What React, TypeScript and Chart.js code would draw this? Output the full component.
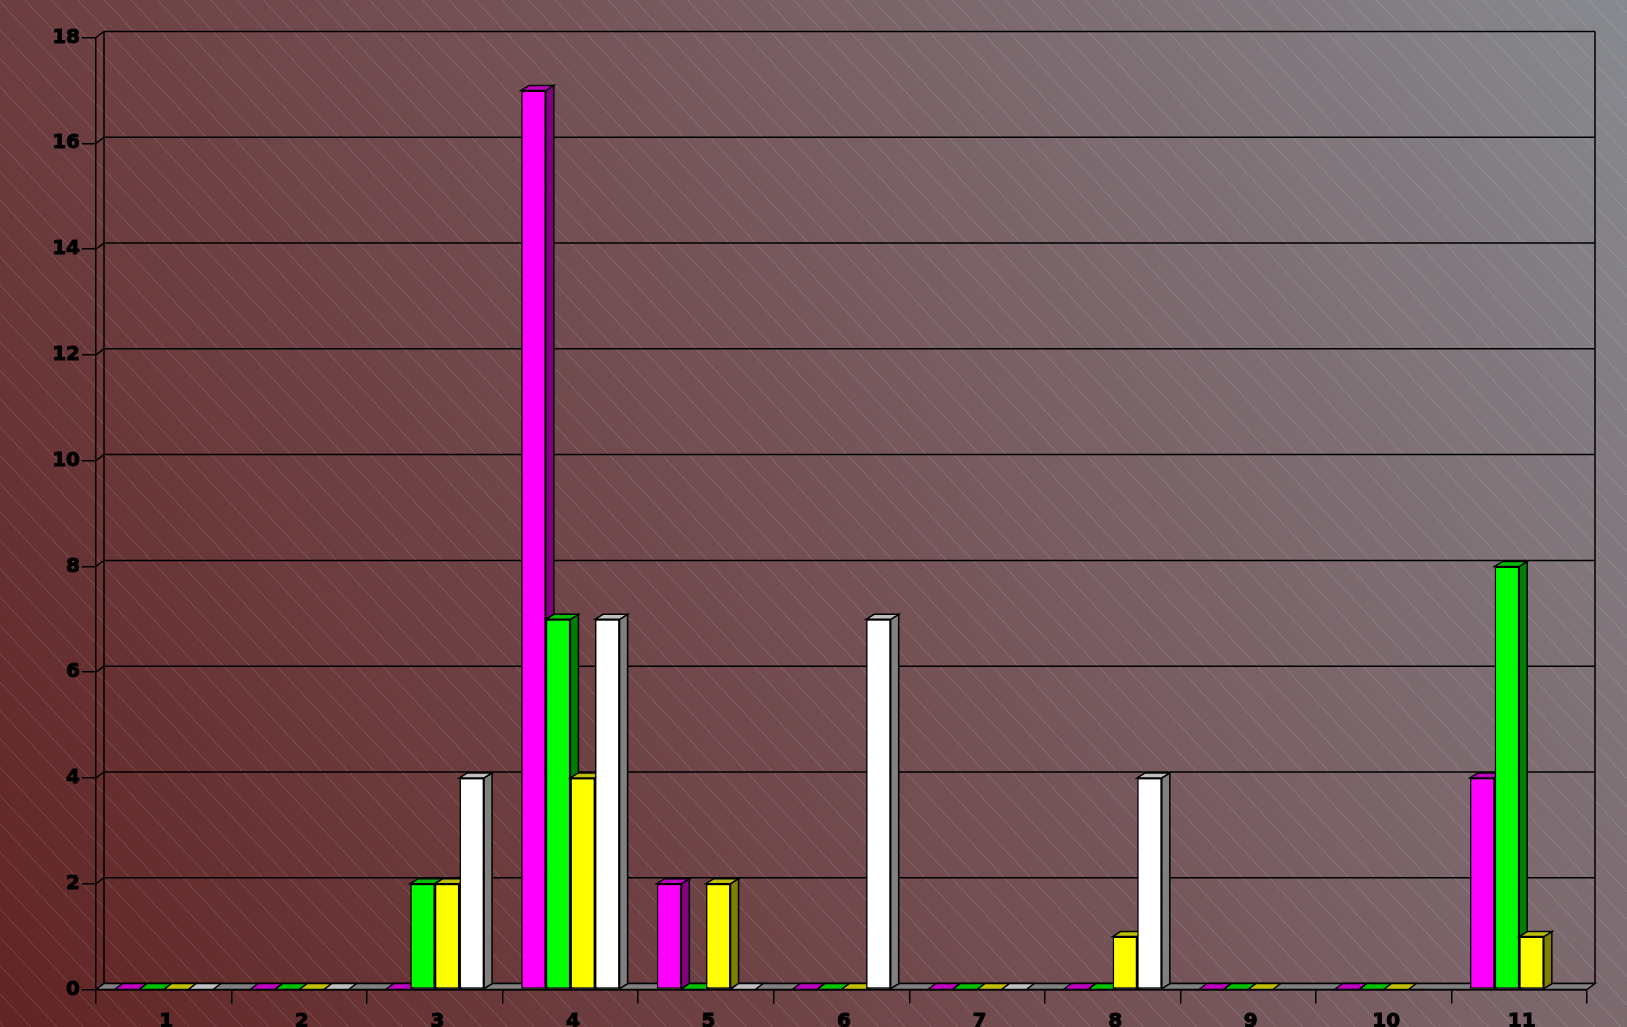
import React, { useEffect, useRef } from "react";
import { Chart, registerables } from "chart.js";

Chart.register(...registerables);

const categories = ["1", "2", "3", "4", "5", "6", "7", "8", "9", "10", "11"];
const magentaValues = [0, 0, 0, 17, 2, 0, 0, 0, 0, 0, 4];
const greenValues = [0, 0, 2, 7, 0, 0, 0, 0, 0, 0, 8];
const yellowValues = [0, 0, 2, 4, 2, 0, 0, 1, 0, 0, 1];
const whiteValues = [0, 0, 4, 7, 0, 7, 0, 4, null, null, null];

const WIDTH = 1627;
const HEIGHT = 1027;
const DX = 8;
const WALL_DY = 6;
const BAR_DY = 5;
const LINE = 1.5;

const poly = (ctx: CanvasRenderingContext2D, pts: number[][], fill: string) => {
  ctx.beginPath();
  pts.forEach((p, i) => (i ? ctx.lineTo(p[0], p[1]) : ctx.moveTo(p[0], p[1])));
  ctx.closePath();
  ctx.fillStyle = fill;
  ctx.fill();
  ctx.stroke();
};

const backgroundPlugin = {
  id: "gradientHatch",
  beforeDraw(chart: any) {
    const { ctx } = chart;
    ctx.save();
    const g = ctx.createLinearGradient(0, HEIGHT, WIDTH, 0);
    g.addColorStop(0, "#622424");
    g.addColorStop(0.5, "#745155");
    g.addColorStop(1, "#878a90");
    ctx.fillStyle = g;
    ctx.fillRect(0, 0, WIDTH, HEIGHT);
    ctx.strokeStyle = "rgba(255,255,255,0.2)";
    ctx.lineWidth = 0.8;
    const slope = 1.07;
    for (let x = -1300; x < WIDTH; x += 26.5) {
      ctx.beginPath();
      ctx.moveTo(x, 0);
      ctx.lineTo(x + HEIGHT / slope, HEIGHT);
      ctx.stroke();
    }
    ctx.restore();
  },
};

const drawBarSides = (chart: any, index: number) => {
  const { ctx } = chart;
  const ds = chart.data.datasets[index];
  const meta = chart.getDatasetMeta(index);
  ctx.save();
  ctx.strokeStyle = "#000";
  ctx.lineWidth = LINE;
  meta.data.forEach((el: any, i: number) => {
    const v = ds.data[i];
    if (v === null || v === undefined) return;
    const l = el.x - el.width / 2;
    const r = el.x + el.width / 2;
    const top = el.y;
    const base = el.base;
    const d = v === 0 ? WALL_DY : BAR_DY;
    if (v > 0) {
      poly(
        ctx,
        [
          [r, top],
          [r + DX, top - d],
          [r + DX, base - d],
          [r, base],
        ],
        ds.sideColor
      );
    }
    poly(
      ctx,
      [
        [l, top],
        [l + DX, top - d],
        [r + DX, top - d],
        [r, top],
      ],
      ds.topColor
    );
  });
  ctx.restore();
};

const scene3dPlugin = {
  id: "scene3d",
  beforeDatasetsDraw(chart: any) {
    const { ctx, chartArea: a, scales } = chart;
    const y = scales.y;
    ctx.save();
    ctx.strokeStyle = "#000";
    ctx.lineWidth = LINE;
    y.ticks.forEach((t: any) => {
      const py = y.getPixelForValue(t.value);
      ctx.beginPath();
      ctx.moveTo(a.left, py);
      ctx.lineTo(a.left + DX, py - WALL_DY);
      ctx.lineTo(a.right + DX, py - WALL_DY);
      ctx.stroke();
    });
    ctx.beginPath();
    ctx.moveTo(a.left + DX, a.top - WALL_DY);
    ctx.lineTo(a.left + DX, a.bottom - WALL_DY);
    ctx.moveTo(a.right + DX, a.top - WALL_DY);
    ctx.lineTo(a.right + DX, a.bottom - WALL_DY);
    ctx.stroke();
    poly(
      ctx,
      [
        [a.left, a.bottom],
        [a.left + DX, a.bottom - WALL_DY],
        [a.right + DX, a.bottom - WALL_DY],
        [a.right, a.bottom],
      ],
      "#808080"
    );
    ctx.restore();
    // paint from the first series to the last, so each bar hides its left neighbour's side
    chart.data.datasets.forEach((_: any, i: number) => {
      drawBarSides(chart, i);
      chart.getDatasetMeta(i).controller.draw();
    });
  },
  beforeDatasetDraw() {
    return false;
  },
};

const makeDataset = (data: (number | null)[], front: string, topColor: string, sideColor: string) => ({
  data,
  backgroundColor: front,
  borderColor: "#000",
  borderWidth: LINE,
  borderSkipped: false,
  topColor,
  sideColor,
  categoryPercentage: 0.726,
  barPercentage: 1,
});

export default function App() {
  const ref = useRef<HTMLCanvasElement>(null);
  useEffect(() => {
    const tickFont = { family: "'DejaVu Sans'", size: 20, weight: "bold" as const };
    const chart = new Chart(ref.current as HTMLCanvasElement, {
      type: "bar",
      data: {
        labels: categories,
        datasets: [
          makeDataset(magentaValues, "#ff00ff", "#c000c0", "#800080"),
          makeDataset(greenValues, "#00ff00", "#00c000", "#008000"),
          makeDataset(yellowValues, "#ffff00", "#c0c000", "#808000"),
          makeDataset(whiteValues, "#ffffff", "#c0c0c0", "#808080"),
        ] as any,
      },
      options: {
        animation: false,
        responsive: false,
        devicePixelRatio: 1,
        layout: { padding: { top: 37.5, right: 40, bottom: 0, left: 0 } },
        plugins: { legend: { display: false }, tooltip: { enabled: false } },
        scales: {
          x: {
            afterFit(scale: any) {
              scale.height = 37.5;
            },
            grid: { drawOnChartArea: false, drawTicks: true, tickLength: 14, color: "#000", lineWidth: LINE },
            border: { color: "#000", width: LINE },
            ticks: {
              color: "#000",
              font: tickFont,
              padding: 6,
              labelOffset: 2.5,
              maxRotation: 0,
              autoSkip: false,
              textStrokeColor: "#000",
              textStrokeWidth: 1,
            },
          },
          y: {
            min: 0,
            max: 18,
            afterFit(scale: any) {
              scale.width = 96;
            },
            grid: { drawOnChartArea: false, drawTicks: true, tickLength: 14, color: "#000", lineWidth: LINE },
            border: { color: "#000", width: LINE },
            ticks: {
              color: "#000",
              font: tickFont,
              padding: 2,
              stepSize: 2,
              textStrokeColor: "#000",
              textStrokeWidth: 1,
            },
          },
        },
      },
      plugins: [backgroundPlugin, scene3dPlugin],
    } as any);
    return () => chart.destroy();
  }, []);
  return (
    <div style={{ position: "fixed", left: 0, top: 0, width: WIDTH, height: HEIGHT, overflow: "hidden" }}>
      <canvas ref={ref} width={WIDTH} height={HEIGHT} style={{ display: "block" }} />
    </div>
  );
}
